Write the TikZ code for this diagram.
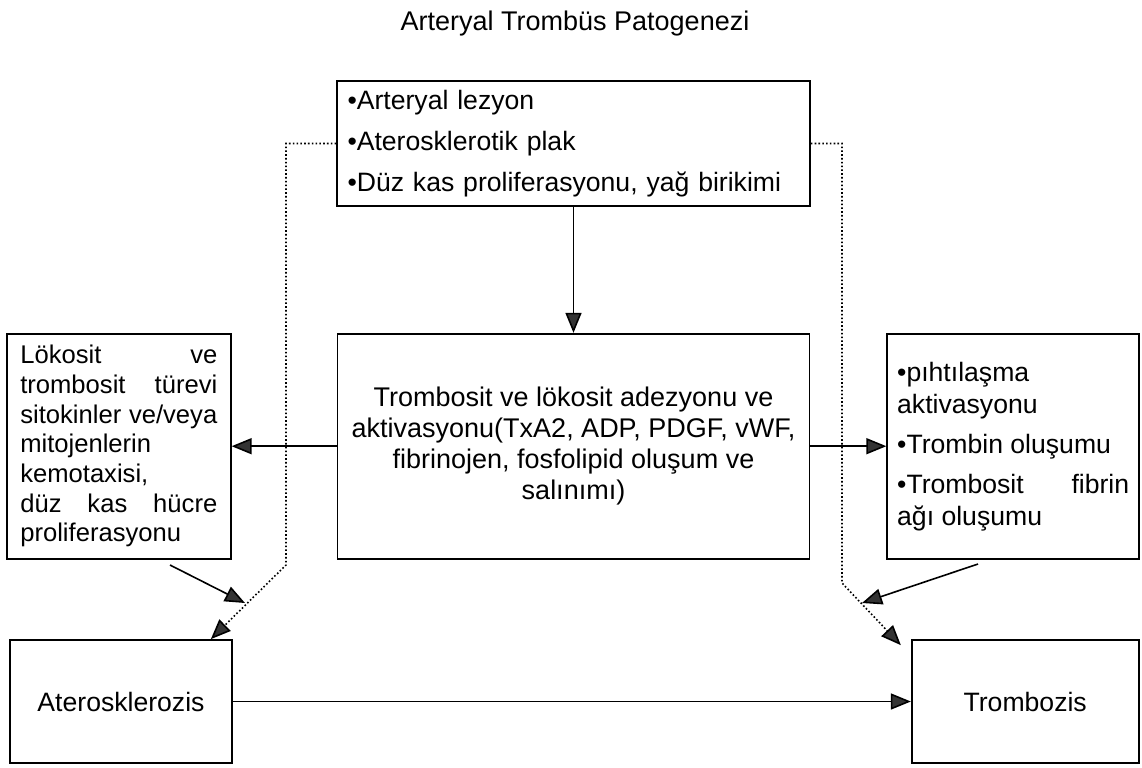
\documentclass[tikz,border=0pt]{standalone}
\usepackage{fontspec}
\setmainfont{Liberation Sans}
\usetikzlibrary{arrows.meta,positioning}

\begin{document}
\begin{tikzpicture}[x=0.5pt, y=-0.5pt,
	basic/.style   = {draw, line width=0.85pt, rectangle, inner sep=0pt, font=\fontsize{13.3}{15.2}\selectfont},
	topbox/.style  = {basic, minimum width=236.5pt, minimum height=62.5pt, text width=226pt, align=left, font=\fontsize{13.3}{20.6}\selectfont},
	midbox/.style  = {basic, minimum width=236pt, minimum height=112.5pt, align=center, font=\fontsize{13.5}{15.4}\selectfont},
	sidebox/.style = {basic, minimum height=112.5pt, align=justify},
	endbox/.style  = {basic, minimum width=111pt, minimum height=61.5pt},
	dotline/.style = {dash pattern=on 0.8pt off 1.1pt, line width=0.8pt},
	every path/.style = {line width=0.8pt},
	>={Triangle[length=10pt, width=8pt, fill=black!80]}]

	\useasboundingbox (0,0) rectangle (1142,767);

	% title and the first box
	\node[font=\fontsize{13.5}{16}\selectfont, anchor=base] (ttl) at (575,30) {Arteryal Trombüs Patogenezi};
	\node[topbox] (top) at (573.5,143.5) {•Arteryal lezyon\\•Aterosklerotik plak\\•Düz kas proliferasyonu, yağ birikimi};

	% middle row, relatively positioned nodes
	\node[midbox, below=63pt of top] (mid) {Trombosit ve lökosit adezyonu ve\\aktivasyonu(TxA2, ADP, PDGF, vWF,\\fibrinojen, fosfolipid oluşum ve\\salınımı)};
	\node[sidebox, minimum width=112pt, text width=98.5pt, left=52.5pt of mid, font=\fontsize{12.8}{14.85}\selectfont] (lok) {Lökosit\hfill ve\\trombosit\hfill türevi\\sitokinler\hfill ve/veya\\mitojenlerin\\kemotaxisi,\\düz\hfill kas\hfill hücre\\proliferasyonu};
	\node[sidebox, minimum width=126pt, text width=116pt, right=38pt of mid, font=\fontsize{13.3}{16}\selectfont] (pih) {•pıhtılaşma\\aktivasyonu\\[4pt]•Trombin oluşumu\\[4pt]•Trombosit\hfill fibrin\\ağı oluşumu};

	% bottom row
	\node[endbox] (ater) at (121,701.5) {Aterosklerozis};
	\node[endbox, minimum width=113.5pt, right=339pt of ater] (tromb) {Trombozis};

	% free ends of the connectors
	\coordinate (lokout) at (170,565);
	\coordinate (lokin) at (245,603);
	\coordinate (pihout) at (978,564);
	\coordinate (pihin) at (862,603);
	\coordinate (bendL) at (286,565);
	\coordinate (bendR) at (842,583);

	% arrows between the boxes
	\draw[->] (top) -- (mid);
	\foreach \side in {lok,pih}
	\draw[->] (mid) -- (\side);
	\draw[->] (ater) -- (tromb);

	\draw[->] (lokout) -- (lokin);
	\draw[->] (pihout) -- (pihin);

	% dotted lines from the plaque
	\draw[->, dotline] (top.west) -| (bendL) -- ([xshift=-11pt]ater.north east);
	\draw[->, dotline] (top.east) -| (bendR) -- ([xshift=-5pt, yshift=-3pt]tromb.north west);

\end{tikzpicture}
\end{document}
